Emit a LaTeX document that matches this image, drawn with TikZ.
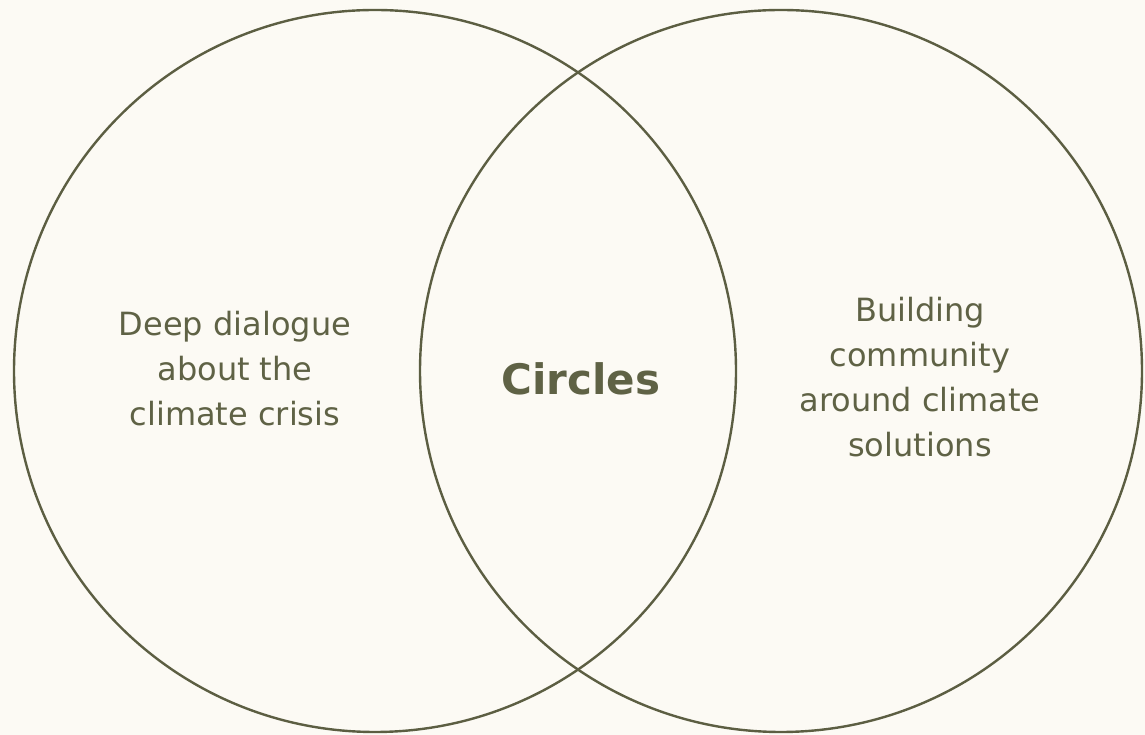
\documentclass[tikz,border=0pt]{standalone}
\usepackage{fontspec}
\setmainfont{DejaVu Sans}
\usepackage{tikz}
\definecolor{paper}{HTML}{FCFAF4}
\definecolor{olive}{HTML}{5C5E42}
\definecolor{olivetext}{HTML}{5F6245}
\tikzset{
	ring/.style={line width=2.4pt, color=olive},
	lbl/.style={align=center, text=olivetext, font=\fontsize{32}{45}\selectfont},
	core/.style={text=olivetext, font=\fontsize{42}{48}\selectfont\bfseries}
}

\begin{document}
\begin{tikzpicture}[x=1pt, y=1pt]
		%%%%% START %%%%%
		
		\fill[paper] (0, 0) rectangle (1145, 735);
		\useasboundingbox (0, 0) rectangle (1145, 735);
		
		\draw[ring] (375, 364) circle (361);
		\draw[ring] (781, 364) circle (361);
		
		\node[lbl] (dialogue) at (235, 366) {Deep dialogue\\about the\\climate crisis};
		\node[core] (circles) at (581, 356) {Circles};
		\node[lbl] (community) at (920, 358) {Building\\community\\around climate\\solutions};
		
		%%%%% END %%%%%
	\end{tikzpicture}
\end{document}
